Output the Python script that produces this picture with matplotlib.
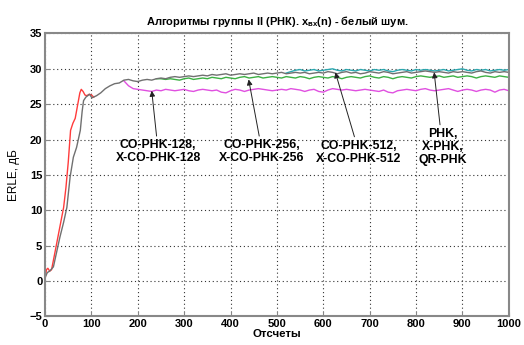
import numpy as np
import matplotlib
matplotlib.use("Agg")
from matplotlib import pyplot as plt

plt.rcParams['font.family'] = ['Liberation Sans', 'DejaVu Sans']
plt.rcParams['font.weight'] = 'bold'
plt.rcParams['mathtext.fontset'] = 'custom'
plt.rcParams['mathtext.rm'] = 'Liberation Sans:bold'
plt.rcParams['mathtext.bf'] = 'Liberation Sans:bold'
plt.rcParams['mathtext.it'] = 'Liberation Sans:bold'

# fast-converging early curve (red)
red_n = [0, 3, 6, 10, 14, 20, 25, 30, 35, 40, 45, 50, 55, 60, 65, 70, 75, 78, 82, 86, 90, 95, 100, 105]
red_v = [0.3, 1.6, 1.8, 1.4, 1.6, 3.6, 5.3, 7.0, 8.7, 10.4, 13.2, 16.8, 21.3, 22.3, 23.0, 24.8,
         26.6, 27.1, 26.8, 26.3, 26.2, 26.4, 26.3, 26.0]

# common trunk (gray) up to n=200
trunk_n = [0, 5, 10, 18, 25, 32, 40, 47, 54, 61, 68, 76, 80, 83, 88, 92, 96, 101, 111, 120,
           130, 140, 150, 160, 170, 180, 190, 200]
trunk_v = [0.5, 1.2, 1.4, 2.0, 4.1, 6.2, 8.3, 10.4, 14.7, 17.5, 18.9, 21.3, 24.0, 25.5, 26.0,
           26.2, 26.4, 25.9, 26.2, 26.6, 27.2, 27.6, 27.9, 28.0, 28.4, 28.5, 28.3, 28.2]

# CO-PHK-128 (magenta), from n=170 step 10
mag_start = 170
mag_v = [28.3, 27.6, 27.2, 27.1, 27.0, 26.9, 26.8, 27.0, 26.9, 27.1, 27.0, 26.9, 27.0, 27.1,
         26.9, 26.8, 27.0, 27.1, 27.0, 26.9, 27.0, 26.7, 26.6, 26.9, 27.1, 27.0, 26.8, 27.0,
         27.1, 27.2, 27.1, 27.0, 26.9, 27.0, 27.1, 27.0, 27.2, 27.1, 27.0, 26.8, 27.0, 27.1,
         26.8, 26.7, 27.0, 27.2, 27.1, 27.0, 27.1, 27.0, 26.9, 27.0, 27.1, 27.0, 26.9, 26.8,
         27.0, 26.7, 26.6, 26.9, 27.0, 27.1, 27.0, 26.9, 27.1, 27.2, 27.0, 26.9, 27.0, 27.1,
         27.2, 27.0, 26.8, 27.0, 27.1, 27.0, 26.8, 27.0, 27.1, 27.0, 26.7, 27.0, 27.1, 26.9]

# CO-PHK-256 (green), from n=240 step 10
grn_start = 240
grn_v = [28.6, 28.6, 28.5, 28.6, 28.5, 28.4, 28.6, 28.7, 28.5, 28.6, 28.7, 28.6, 28.8, 28.7,
         28.6, 28.8, 28.7, 28.6, 28.8, 28.9, 28.7, 28.8, 28.9, 28.7, 28.8, 28.9, 28.8, 28.7,
         28.9, 28.8, 28.7, 28.9, 28.8, 28.6, 28.8, 28.9, 28.8, 28.7, 28.9, 28.8, 28.6, 28.8,
         28.9, 28.8, 28.7, 28.9, 29.0, 28.8, 28.7, 28.9, 28.8, 28.6, 28.8, 28.9, 28.8, 28.7,
         28.9, 29.0, 28.9, 28.8, 28.9, 29.0, 28.8, 28.9, 29.0, 28.8, 28.9, 29.0, 28.9, 28.7,
         28.9, 29.0, 28.9, 28.8, 29.0, 28.9, 28.8]

# CO-PHK-512 (gray), from n=200 step 10
gry_start = 200
gry_v = [28.2, 28.4, 28.5, 28.4, 28.6, 28.7, 28.6, 28.8, 28.9, 28.8, 28.9, 29.0, 28.9, 29.0,
         29.1, 29.0, 29.2, 29.1, 29.2, 29.3, 29.1, 29.2, 29.3, 29.2, 29.3, 29.4, 29.2, 29.3,
         29.4, 29.3, 29.4, 29.5, 29.3, 29.4, 29.5, 29.4, 29.5, 29.3, 29.4, 29.5, 29.4, 29.6,
         29.5, 29.3, 29.5, 29.6, 29.4, 29.5, 29.3, 29.4, 29.6, 29.5, 29.4, 29.6, 29.5, 29.3,
         29.4, 29.5, 29.6, 29.4, 29.5, 29.6, 29.7, 29.6, 29.5, 29.6, 29.5, 29.4, 29.6, 29.5,
         29.6, 29.5, 29.4, 29.6, 29.7, 29.5, 29.4, 29.6, 29.5, 29.6, 29.5]

# PHK, X-PHK, QR-PHK (cyan), from n=520 step 10
cyn_start = 520
cyn_v = [29.4, 29.6, 29.8, 29.9, 29.7, 29.8, 29.9, 29.7, 29.8, 29.9, 30.0, 29.8, 29.7, 29.9,
         29.8, 29.7, 29.9, 29.8, 29.7, 29.9, 29.8, 29.9, 29.7, 29.6, 29.8, 29.9, 29.8, 29.7,
         29.9, 29.8, 29.9, 29.8, 29.7, 29.8, 29.9, 29.7, 29.8, 29.9, 30.0, 29.8, 29.7, 29.9,
         29.8, 29.9, 29.7, 29.8, 29.9, 29.8, 29.9]

labels = ["CO-PHK-128,\nX-CO-PHK-128", "CO-PHK-256,\nX-CO-PHK-256",
          "CO-PHK-512,\nX-CO-PHK-512", "PHK,\nX-PHK,\nQR-PHK"]
label_xy = [(244, 20.1), (468, 20.1), (677, 20.0), (857, 21.7)]
arrow_tip = [(230, 26.9), (439, 28.5), (626, 29.5), (839, 29.5)]


def steps(start, vals):
    return np.arange(start, start + 10 * len(vals), 10)


fig = plt.figure(figsize=(5.24, 3.45), dpi=100)
ax = fig.add_axes([0.086, 0.083, 0.885, 0.82])

ax.plot(red_n, red_v, color='#ff3b3b', lw=1.0)
ax.plot(steps(mag_start, mag_v), mag_v, color='#e050e0', lw=1.0)
ax.plot(steps(grn_start, grn_v), grn_v, color='#3cb043', lw=1.0)
ax.plot(steps(cyn_start, cyn_v), cyn_v, color='#2aa8b0', lw=1.0)
ax.plot(steps(gry_start, gry_v), gry_v, color='#707070', lw=1.0)
ax.plot(trunk_n, trunk_v, color='#707070', lw=1.0)

for txt, (tx, ty), (px, py) in zip(labels, label_xy, arrow_tip):
    ax.annotate(txt, xy=(px, py), xytext=(tx, ty), ha='center', va='top',
                fontsize=8.8, fontweight='bold', linespacing=1.15,
                arrowprops=dict(arrowstyle='-|>', color='#222222', lw=0.7,
                                mutation_scale=8, shrinkA=0, shrinkB=0))

ax.set_xlim(0, 1000)
ax.set_ylim(-5, 35)
ax.set_xticks(np.arange(0, 1001, 100))
ax.set_yticks(np.arange(-5, 36, 5))
ax.grid(True, color='#333333', linestyle=(0, (1, 2.5)), lw=0.8)
ax.tick_params(direction='in', length=3, labelsize=8, colors='#888888', labelcolor='black', pad=2)
for lbl in ax.get_xticklabels() + ax.get_yticklabels():
    lbl.set_fontweight('bold')
for sp in ax.spines.values():
    sp.set_color('#888888')
    sp.set_linewidth(1.5)

ax.set_title(r"Алгоритмы группы II (РНК). x$_{\mathrm{вх}}$(n) - белый шум.",
             fontsize=8, fontweight='bold', pad=6)
ax.set_xlabel("Отсчеты", fontsize=8.2, fontweight='bold', labelpad=0)
ax.set_ylabel("ERLE, дБ", fontsize=8.5, fontweight='normal', labelpad=7)

fig.savefig("out.png", dpi=100)
